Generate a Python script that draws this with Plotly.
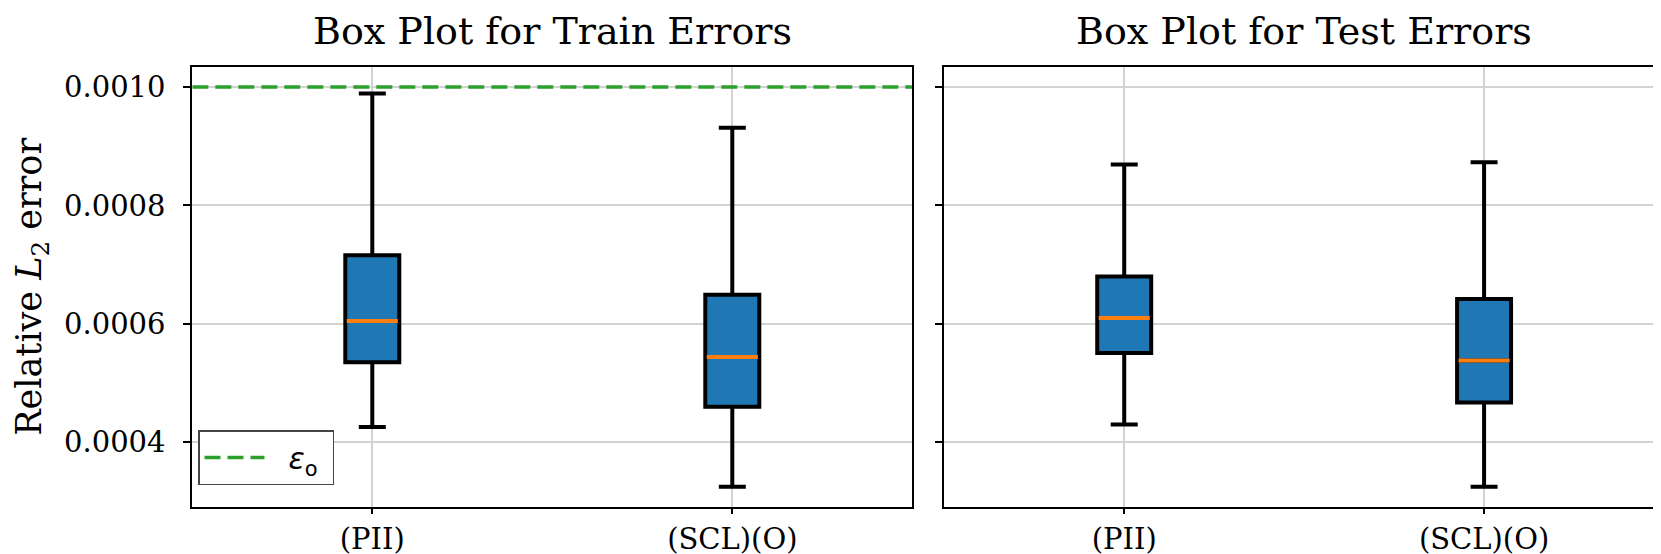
import plotly.graph_objects as go

# ---- data ----
categories = ["(PII)", "(SCL)(O)"]
positions = [1, 2]

train_lower = [0.000426, 0.000325]
train_q1 = [0.000535, 0.000460]
train_median = [0.000605, 0.000544]
train_q3 = [0.000716, 0.000649]
train_upper = [0.000989, 0.000931]

test_lower = [0.000430, 0.000325]
test_q1 = [0.000551, 0.000467]
test_median = [0.000610, 0.000538]
test_q3 = [0.000680, 0.000642]
test_upper = [0.000869, 0.000873]

epsilon_o = 0.001
panel_titles = ["Box Plot for Train Errors", "Box Plot for Test Errors"]
y_tick_vals = [0.0004, 0.0006, 0.0008, 0.0010]
y_range = [0.0002902, 0.0010333]
x_range = [0.5, 2.5]

# ---- style ----
BOX_W = 0.15
SERIF = "DejaVu Serif"
BLUE = "#1f77b4"
ORANGE = "#ff7f0e"
GREEN = "#2ca02c"
GRID = "#d3d3d3"

fig = go.Figure()


def add_panel(xa, ya, lower, q1, med, q3, upper):
    fig.add_trace(go.Box(
        x=positions, q1=q1, median=med, q3=q3,
        lowerfence=lower, upperfence=upper,
        width=BOX_W, whiskerwidth=0.5, boxpoints=False,
        fillcolor=BLUE, line=dict(color="black", width=4),
        showlegend=False, hoverinfo="skip",
        xaxis=xa, yaxis=ya,
    ))
    mx, my = [], []
    for p, m in zip(positions, med):
        mx += [p - BOX_W / 2 + 0.004, p + BOX_W / 2 - 0.004, None]
        my += [m, m, None]
    fig.add_trace(go.Scatter(
        x=mx, y=my, mode="lines", line=dict(color=ORANGE, width=4),
        showlegend=False, hoverinfo="skip", xaxis=xa, yaxis=ya,
    ))


add_panel("x", "y", train_lower, train_q1, train_median, train_q3, train_upper)
add_panel("x2", "y2", test_lower, test_q1, test_median, test_q3, test_upper)

# epsilon_o threshold line on the training panel
fig.add_trace(go.Scatter(
    x=x_range, y=[epsilon_o, epsilon_o], mode="lines",
    line=dict(color=GREEN, width=3.5, dash="16px,7px"),
    name="&nbsp;&nbsp;<i>ε</i><sub>o</sub>&nbsp;", showlegend=True, hoverinfo="skip",
    xaxis="x", yaxis="y",
))

W, H = 1661, 554
xd1 = [184.3 / W, 904.3 / W]
xd2 = [936.3 / W, 1656.0 / W]
yd = [1 - 499.3 / H, 1 - 59.3 / H]

axis_common = dict(
    showline=True, linecolor="black", linewidth=2, mirror=True,
    showgrid=True, gridcolor=GRID, gridwidth=1.5,
    ticks="outside", tickwidth=2, tickcolor="black",
    tickfont=dict(family=SERIF, size=29, color="black"),
    zeroline=False,
)

fig.update_layout(
    width=W, height=H,
    margin=dict(l=0, r=0, t=0, b=0),
    paper_bgcolor="white", plot_bgcolor="white",
    xaxis=dict(domain=xd1, range=x_range, tickvals=positions, ticktext=categories,
               anchor="y", ticklen=5, ticklabelstandoff=0, **axis_common),
    xaxis2=dict(domain=xd2, range=x_range, tickvals=positions, ticktext=categories,
                anchor="y2", ticklen=5, ticklabelstandoff=0, **axis_common),
    yaxis=dict(domain=yd, range=y_range, tickvals=y_tick_vals, tickformat=".4f",
               anchor="x", ticklen=7, ticklabelstandoff=12, **axis_common),
    yaxis2=dict(domain=yd, range=y_range, tickvals=y_tick_vals, matches="y",
                showticklabels=False, anchor="x2", ticklen=7, **axis_common),
    showlegend=True,
    legend=dict(
        x=190 / W, y=1 - 477 / H, xanchor="left", yanchor="bottom",
        bgcolor="white", bordercolor="#444444", borderwidth=1.5,
        font=dict(family="DejaVu Sans", size=30, color="black"),
        itemwidth=60,
    ),
)

# panel titles
for dom, t in zip([xd1, xd2], panel_titles):
    fig.add_annotation(
        text=t, x=(dom[0] + dom[1]) / 2, y=1, xref="paper", yref="paper",
        xanchor="center", yanchor="top", showarrow=False, borderpad=0,
        font=dict(family=SERIF, size=38, color="black"),
    )

# y-axis label
fig.add_annotation(
    text="Relative <i>L</i><sub>2</sub> error", textangle=-90,
    x=0, y=(yd[0] + yd[1]) / 2, xref="paper", yref="paper",
    xanchor="left", yanchor="middle", showarrow=False, borderpad=0,
    font=dict(family=SERIF, size=35, color="black"),
)

fig.write_html("out.html")
